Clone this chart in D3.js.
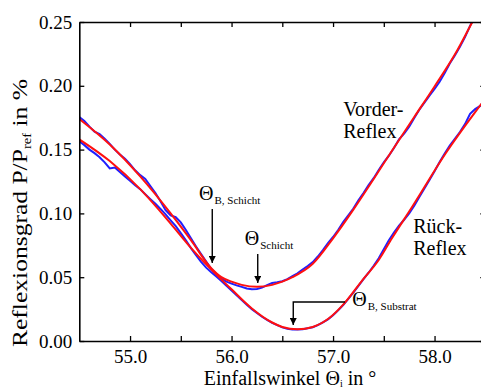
<!DOCTYPE html>
<html>
<head>
<meta charset="utf-8">
<script src="https://cdn.jsdelivr.net/npm/d3@7"></script>
<style>
  body { margin: 0; background: #fff; }
  svg text { font-family: "Liberation Serif", "DejaVu Serif", "Times New Roman", Times, serif; }
</style>
</head>
<body>
<div id="chart"></div>
<script>
// Reflexionsgrad vs. Einfallswinkel, measured (blue) and fitted (red)

var serif = '"Liberation Serif", "DejaVu Serif", "Times New Roman", Times, serif';

// measured data, 0.05 deg steps from 54.50
var angles = [54.50,54.55,54.60,54.65,54.70,54.75,54.80,54.85,54.90,54.95,
  55.00,55.05,55.10,55.15,55.20,55.25,55.30,55.35,55.40,55.45,
  55.50,55.55,55.60,55.65,55.70,55.75,55.80,55.85,55.90,55.95,
  56.00,56.05,56.10,56.15,56.20,56.25,56.30,56.35,56.40,56.45,
  56.50,56.55,56.60,56.65,56.70,56.75,56.80,56.85,56.90,56.95,
  57.00,57.05,57.10,57.15,57.20,57.25,57.30,57.35,57.40,57.45,
  57.50,57.55,57.60,57.65,57.70,57.75,57.80,57.85,57.90,57.95,
  58.00,58.05,58.10,58.15,58.20,58.25,58.30,58.35,58.40,58.45,58.50];

var frontMeasured = [.1755,.1725,.1680,.1640,.1622,.1585,.1545,.1500,.1462,.1428,
  .1385,.1338,.1300,.1270,.1215,.1160,.1095,.1025,.0985,.0970,
  .0930,.0870,.0805,.0740,.0682,.0622,.0565,.0525,.0488,.0465,
  .0450,.0436,.0424,.0412,.0405,.0408,.0418,.0438,.0455,.0460,
  .0468,.0485,.0508,.0530,.0560,.0588,.0618,.0662,.0712,.0768,
  .0815,.0870,.0932,.0985,.1038,.1102,.1160,.1222,.1276,.1340,
  .1400,.1452,.1512,.1580,.1625,.1680,.1748,.1812,.1868,.1922,
  .1975,.2032,.2100,.2175,.2238,.2305,.2382,.2470,.2548,.2620,.2690];

var backMeasured = [.1565,.1535,.1500,.1472,.1440,.1400,.1352,.1360,.1325,.1290,
  .1255,.1220,.1190,.1150,.1112,.1075,.1035,.0992,.0945,.0900,
  .0845,.0790,.0728,.0672,.0620,.0575,.0538,.0505,.0470,.0432,
  .0395,.0358,.0322,.0285,.0250,.0220,.0190,.0165,.0142,.0124,
  .0107,.0096,.0090,.0090,.0093,.0100,.0108,.0124,.0146,.0170,
  .0202,.0240,.0282,.0330,.0380,.0432,.0485,.0535,.0590,.0648,
  .0720,.0790,.0850,.0905,.0950,.1000,.1060,.1128,.1195,.1262,
  .1330,.1402,.1470,.1532,.1585,.1638,.1700,.1780,.1818,.1842,.1895];

// fitted curves
var frontFitAngles = [54.5,54.8,55.1,55.4,55.6,55.8,55.9,56.0,56.1,56.25,56.4,56.5,
  56.6,56.8,57.0,57.2,57.4,57.6,57.8,58.0,58.2,58.4,58.5];
var frontFit = [.174,.154,.129,.100,.079,.057,.050,.0465,.044,.0425,.044,.0465,
  .050,.0605,.0805,.103,.127,.1515,.1755,.1995,.2245,.254,.268];

var backFitAngles = [54.5,54.8,55.1,55.4,55.6,55.85,56.0,56.2,56.4,56.5,56.65,56.8,
  56.96,57.1,57.29,57.45,57.58,57.78,58.11,58.44,58.5];
var backFit = [.158,.141,.119,.092,.073,.052,.0405,.0255,.0145,.011,.0092,.011,
  .0178,.0285,.0478,.0635,.0805,.1052,.1471,.1836,.190];

var yTicks = [0, 0.05, 0.10, 0.15, 0.20, 0.25];
var xTicks = [55.0, 55.5, 56.0, 56.5, 57.0, 57.5, 58.0, 58.5];
var xLabels = [55.0, 56.0, 57.0, 58.0];

var width = 481, height = 390;
var margin = {left: 79.3, top: 22, bottom: 49};
var plotH = height - margin.top - margin.bottom;

var x = d3.scaleLinear().domain([54.5, 58.5]).range([margin.left, margin.left + 406]);
var y = d3.scaleLinear().domain([0, 0.25]).range([margin.top + plotH, margin.top]);

var svg = d3.select("#chart").append("svg")
    .attr("width", width)
    .attr("height", height)
    .style("font-family", serif);

svg.append("defs").append("clipPath").attr("id", "plotclip")
  .append("rect")
    .attr("x", x(54.5)).attr("y", y(0.25))
    .attr("width", x(58.5) - x(54.5)).attr("height", y(0) - y(0.25));

svg.append("defs").append("marker")
    .attr("id", "arrow")
    .attr("viewBox", "0 0 10 10")
    .attr("refX", 10).attr("refY", 5)
    .attr("markerWidth", 5).attr("markerHeight", 5)
    .attr("markerUnits", "strokeWidth")
    .attr("orient", "auto")
  .append("path")
    .attr("d", "M0,0 L10,5 L0,10 z")
    .attr("fill", "#000");

// curves
var lineMeasured = d3.line()
    .x(function(d) { return x(d[0]); })
    .y(function(d) { return y(d[1]); });
var lineFit = d3.line()
    .x(function(d) { return x(d[0]); })
    .y(function(d) { return y(d[1]); })
    .curve(d3.curveMonotoneX);

var curves = svg.append("g").attr("clip-path", "url(#plotclip)");

[frontMeasured, backMeasured].forEach(function(series) {
  curves.append("path")
      .datum(d3.zip(angles, series))
      .attr("fill", "none")
      .attr("stroke", "#1f1fff")
      .attr("stroke-width", 2)
      .attr("d", lineMeasured);
});

[[frontFitAngles, frontFit], [backFitAngles, backFit]].forEach(function(s) {
  curves.append("path")
      .datum(d3.zip(s[0], s[1]))
      .attr("fill", "none")
      .attr("stroke", "#ff1010")
      .attr("stroke-width", 2)
      .attr("d", lineFit);
});

// axes
function styleAxis(g) {
  g.attr("font-family", null);
  g.selectAll(".domain").attr("stroke-width", 1.6);
  g.selectAll(".tick line").attr("stroke-width", 1.3);
  g.selectAll("text")
      .style("font-family", serif)
      .attr("font-size", 19)
      .attr("fill", "#000");
}

svg.append("g")
    .attr("transform", "translate(0," + y(0) + ")")
    .call(d3.axisBottom(x).tickValues(xTicks).tickSizeInner(-5).tickSizeOuter(0).tickPadding(9)
      .tickFormat(function(d) { return xLabels.indexOf(d) >= 0 ? d3.format(".1f")(d) : ""; }))
    .call(styleAxis);

svg.append("g")
    .attr("transform", "translate(0," + y(0.25) + ")")
    .call(d3.axisTop(x).tickValues(xTicks).tickSizeInner(-5).tickSizeOuter(0).tickFormat(""))
    .call(styleAxis);

svg.append("g")
    .attr("transform", "translate(" + x(54.5) + ",0)")
    .call(d3.axisLeft(y).tickValues(yTicks).tickSizeInner(-5).tickSizeOuter(0).tickPadding(7)
      .tickFormat(d3.format(".2f")))
    .call(styleAxis);

svg.append("g")
    .attr("transform", "translate(" + x(58.5) + ",0)")
    .call(d3.axisRight(y).tickValues(yTicks).tickSizeInner(-5).tickSizeOuter(0).tickFormat(""))
    .call(styleAxis);

// axis titles
var xt = svg.append("text")
    .attr("x", 290).attr("y", 385)
    .attr("text-anchor", "middle")
    .style("font-family", serif)
    .attr("font-size", 20);
xt.append("tspan").text("Einfallswinkel Θ");
xt.append("tspan").attr("font-size", 10).attr("dy", 2).text("i");
xt.append("tspan").attr("dy", -2).text(" in °");

var yt = svg.append("text")
    .attr("transform", "translate(27,213) rotate(-90)")
    .attr("text-anchor", "middle")
    .attr("textLength", 268)
    .attr("lengthAdjust", "spacingAndGlyphs")
    .style("font-family", serif)
    .attr("font-size", 21);
yt.append("tspan").text("Reflexionsgrad P/P");
yt.append("tspan").attr("font-size", 12).attr("dy", 4).text("ref");
yt.append("tspan").attr("dy", -4).text(" in %");

// annotations
function thetaLabel(px, py, sub) {
  var t = svg.append("text")
      .attr("x", x(px)).attr("y", y(py))
      .style("font-family", serif)
      .attr("font-size", 20);
  t.append("tspan").text("Θ");
  t.append("tspan").attr("font-size", 11).attr("dy", 4).attr("dx", 1).text(sub);
}
thetaLabel(55.68, 0.1105, "B, Schicht");
thetaLabel(56.13, 0.0752, "Schicht");
thetaLabel(57.19, 0.0274, "B, Substrat");

function arrow(points) {
  svg.append("path")
      .datum(points)
      .attr("fill", "none")
      .attr("stroke", "#000")
      .attr("stroke-width", 1.4)
      .attr("marker-end", "url(#arrow)")
      .attr("d", d3.line().x(function(d) { return x(d[0]); }).y(function(d) { return y(d[1]); }));
}
arrow([[55.81, 0.1034], [55.81, 0.0611]]);
arrow([[56.258, 0.0682], [56.258, 0.0455]]);
arrow([[57.118, 0.0306], [56.608, 0.0306], [56.608, 0.0125]]);

function blockLabel(px, py, lines) {
  var t = svg.append("text")
      .attr("x", x(px)).attr("y", y(py))
      .style("font-family", serif)
      .attr("font-size", 20);
  lines.forEach(function(l, i) {
    t.append("tspan").attr("x", x(px)).attr("dy", i === 0 ? 0 : 22).text(l);
  });
}
blockLabel(57.10, 0.1763, ["Vorder-", "Reflex"]);
blockLabel(57.79, 0.0844, ["Rück-", "Reflex"]);
</script>
</body>
</html>
